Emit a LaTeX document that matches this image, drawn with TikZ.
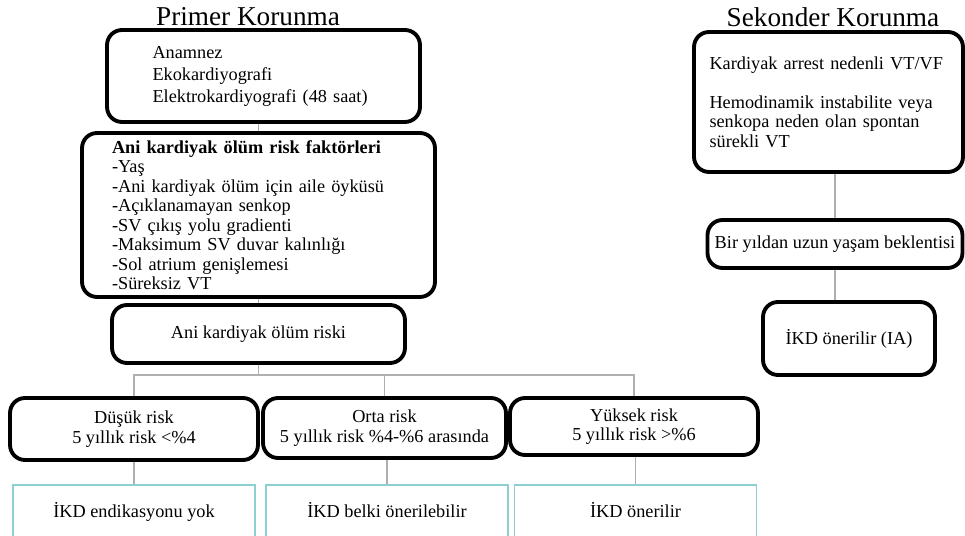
\documentclass[tikz,border=0pt]{standalone}
\usepackage{fontspec}
\setmainfont{Liberation Serif}
\usetikzlibrary{positioning}
\definecolor{linkgray}{RGB}{175,175,175}
\definecolor{frameteal}{RGB}{140,208,210}

\begin{document}
\begin{tikzpicture}[
    x=0.02cm, y=-0.02cm,
    every node/.style={font=\fontsize{10.4}{11.1}\selectfont},
    heading/.style={font=\fontsize{15.5}{17}\selectfont},
    rbox/.style={rectangle, draw=black, line width=2.2pt, rounded corners=0.3cm, fill=white, align=center},
    tbox/.style={rectangle, draw=frameteal, line width=0.8pt, fill=white, minimum width=4.84cm, minimum height=1.2cm},
    link/.style={draw=linkgray, line width=1.1pt}
]
\clip (0,0) rectangle (965,536);

% Primer Korunma
\node[heading] (primer) at (248,17) {Primer Korunma};
\node[rbox, align=left, minimum width=6.26cm, minimum height=1.84cm, text width=4.44cm] (exam) at (263.5,76) {Anamnez\\[1.4pt] Ekokardiyografi\\[1.4pt] Elektrokardiyografi (48 saat)\\[-0.2cm]};
\node[rbox, align=left, minimum width=7.06cm, minimum height=3.28cm, text width=5.86cm] (factors) at (258.5,215) {\textbf{Ani kardiyak ölüm risk faktörleri}\\ -Yaş\\ -Ani kardiyak ölüm için aile öyküsü\\ -Açıklanamayan senkop\\ -SV çıkış yolu gradienti\\ -Maksimum SV duvar kalınlığı\\ -Sol atrium genişlemesi\\ -Süreksiz VT};
\node[rbox, minimum width=5.86cm, minimum height=1.16cm] (risk) at (258.5,334) {Ani kardiyak ölüm riski};

% Risk groups
\node[rbox, minimum width=4.96cm, minimum height=1.24cm] (low) at (134,429) {Düşük risk\\ 5 yıllık risk <\%4};
\node[rbox, minimum width=4.86cm, minimum height=1.2cm] (mid) at (384.5,428) {Orta risk\\ 5 yıllık risk \%4-\%6 arasında};
\node[rbox, minimum width=4.96cm, minimum height=1.14cm] (high) at (634,426.5) {Yüksek risk\\ 5 yıllık risk >\%6};

% Recommendations
\node[tbox] (noicd) at (134,515) {\raisebox{0.2cm}{İKD endikasyonu yok}};
\node[tbox] (maybeicd) at (387,515) {\raisebox{0.2cm}{İKD belki önerilebilir}};
\node[tbox] (icd) at (635.5,515) {\raisebox{0.2cm}{İKD önerilir}};

% Sekonder Korunma
\node[heading] (sekonder) at (833,17) {Sekonder Korunma};
\node[rbox, align=left, minimum width=5.38cm, minimum height=2.8cm, text width=4.76cm] (arrest) at (828.5,102) {Kardiyak arrest nedenli VT/VF\\[11pt] Hemodinamik instabilite veya\\ senkopa neden olan spontan\\ sürekli VT};
\node[rbox, minimum width=5.1cm, minimum height=0.96cm, inner xsep=1pt] (life) at (835,244) {Bir yıldan uzun yaşam beklentisi};
\node[rbox, minimum width=3.44cm, minimum height=1.46cm] (icdia) at (849,338.5) {İKD önerilir (IA)};

% Connections
\coordinate (split) at (258.5,375);
\draw[link] (exam.south -| factors) -- (factors);
\draw[link] (factors) -- (risk);
\draw[link] (risk) -- (split);
\draw[link] (low) |- (split) -| (high);
\draw[link] (mid) -- (mid |- split);
\draw[link] (noicd) -- (noicd |- low.south);
\draw[link] (maybeicd) -- (maybeicd |- mid.south);
\draw[link] (icd) -- (icd |- high.south);
\draw[link] (life) -- (life |- arrest.south);
\draw[link] (life) -- (life |- icdia.north);

\end{tikzpicture}
\end{document}
